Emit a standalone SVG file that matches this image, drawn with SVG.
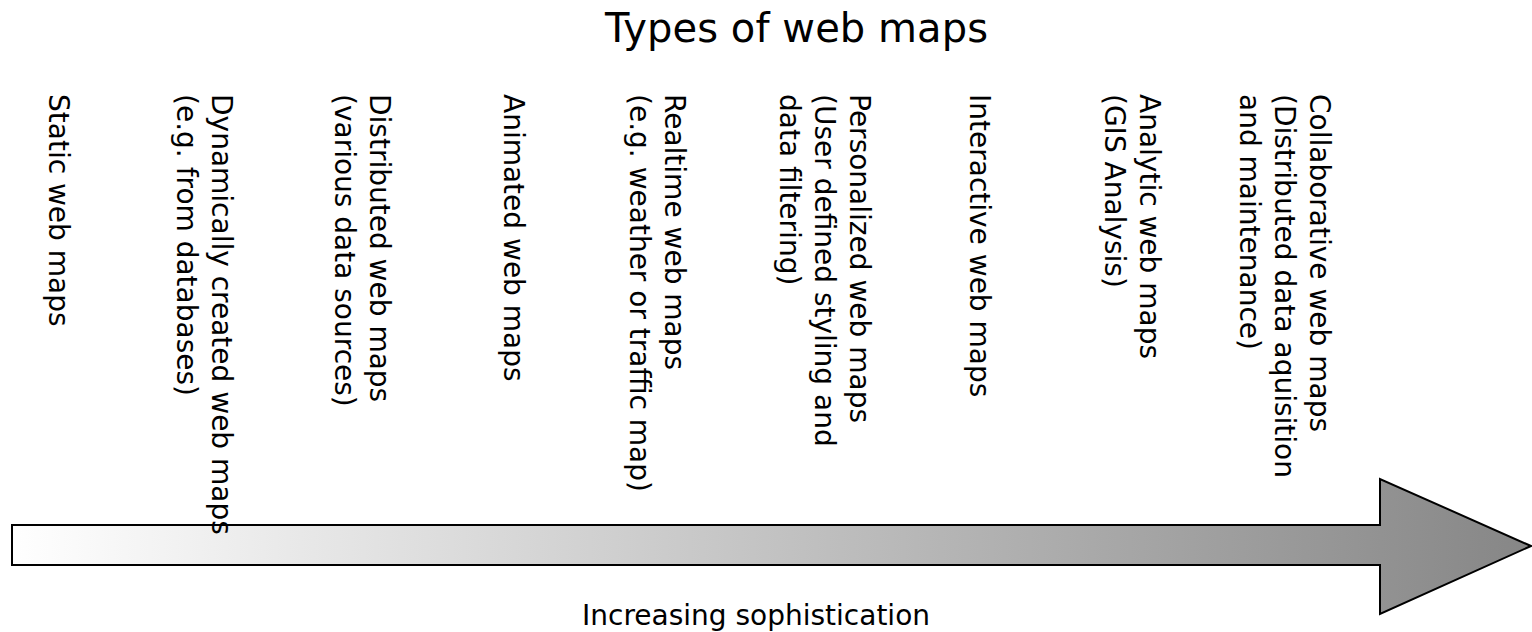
<svg xmlns="http://www.w3.org/2000/svg" width="1532" height="632" viewBox="0 0 1532 632">
<style>
text { font-family: "DejaVu Sans", "Liberation Sans", sans-serif; fill: #000; }
.lbl { font-size: 28px; }
.title { font-size: 40px; }
.axis { font-size: 28px; }
</style>
<defs>
<linearGradient id="grad" gradientUnits="userSpaceOnUse" x1="12" y1="0" x2="1532" y2="0">
<stop offset="0" stop-color="#ffffff"/>
<stop offset="1" stop-color="#868686"/>
</linearGradient>
</defs>
<rect width="1532" height="632" fill="#ffffff"/>
<g id="connectors">
<path id="arrow" d="M12,525 H1380 V479 L1531,546 L1380,614 V565 H12 Z" fill="url(#grad)" stroke="#000" stroke-width="2" stroke-linejoin="miter"/>
</g>
<g id="title"><text class="title" x="605" y="42" textLength="383">Types of web maps</text></g>
<g id="axis-label"><text class="axis" x="582" y="625">Increasing sophistication</text></g>
<g id="n-static"><text class="lbl" transform="translate(49,94) rotate(90)">Static web maps</text></g>
<g id="n-dynamic"><text class="lbl" transform="translate(212,94) rotate(90)"><tspan x="0" y="0">Dynamically created web maps</tspan><tspan x="0" dy="35">(e.g. from databases)</tspan></text></g>
<g id="n-distributed"><text class="lbl" transform="translate(370,94) rotate(90)"><tspan x="0" y="0">Distributed web maps</tspan><tspan x="0" dy="35">(various data sources)</tspan></text></g>
<g id="n-animated"><text class="lbl" transform="translate(504,94) rotate(90)">Animated web maps</text></g>
<g id="n-realtime"><text class="lbl" transform="translate(665,94) rotate(90)"><tspan x="0" y="0">Realtime web maps</tspan><tspan x="0" dy="35">(e.g. weather or traffic map)</tspan></text></g>
<g id="n-personalized"><text class="lbl" transform="translate(850,94) rotate(90)"><tspan x="0" y="0">Personalized web maps</tspan><tspan x="0" dy="35">(User defined styling and</tspan><tspan x="0" dy="35">data filtering)</tspan></text></g>
<g id="n-interactive"><text class="lbl" transform="translate(970,94) rotate(90)">Interactive web maps</text></g>
<g id="n-analytic"><text class="lbl" transform="translate(1140,94) rotate(90)"><tspan x="0" y="0">Analytic web maps</tspan><tspan x="0" dy="35">(GIS Analysis)</tspan></text></g>
<g id="n-collaborative"><text class="lbl" transform="translate(1310,94) rotate(90)"><tspan x="0" y="0">Collaborative web maps</tspan><tspan x="0" dy="35">(Distributed data aquisition</tspan><tspan x="0" dy="35">and maintenance)</tspan></text></g>
</svg>
